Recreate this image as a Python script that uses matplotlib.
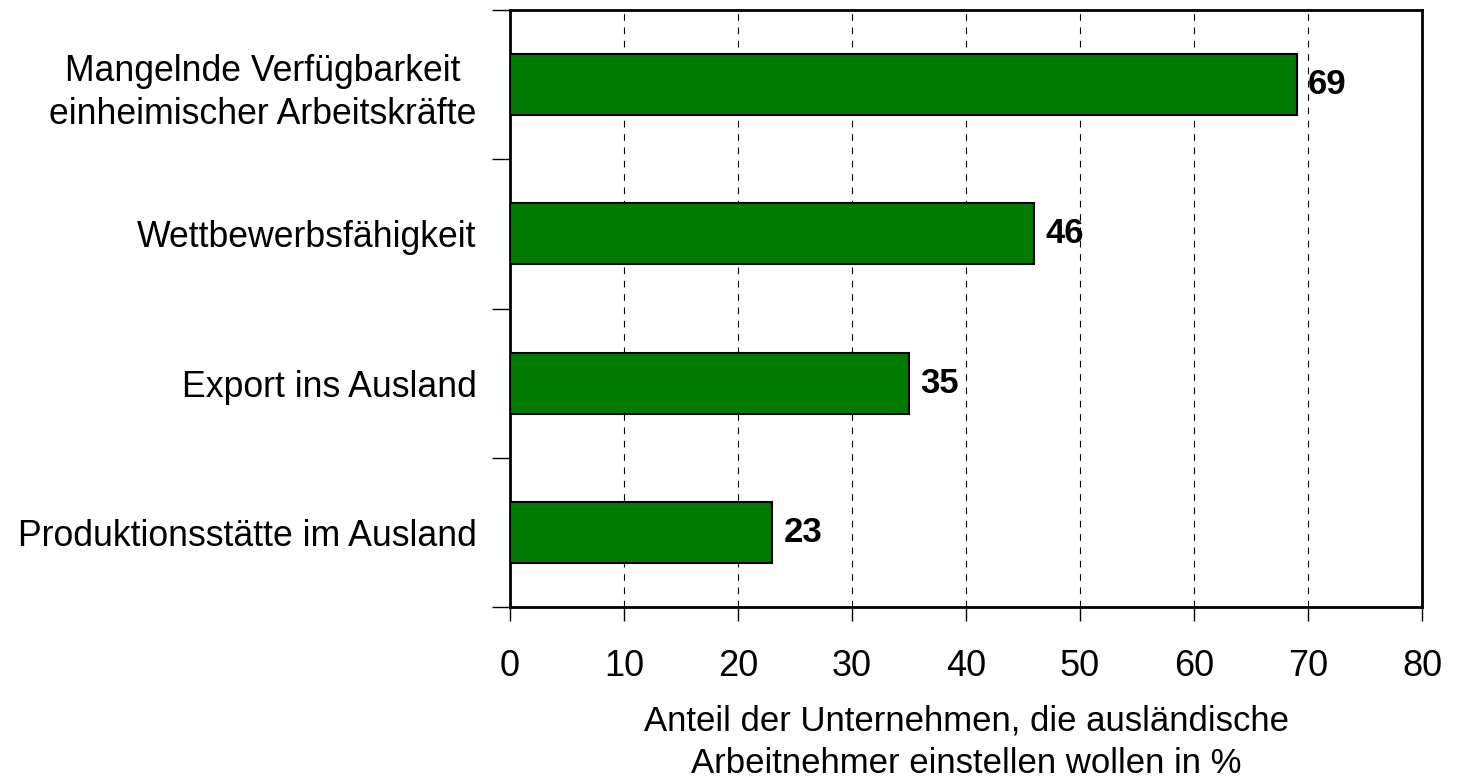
import matplotlib
matplotlib.use("Agg")
import matplotlib.pyplot as plt

categories = [
    "Mangelnde Verfügbarkeit\neinheimischer Arbeitskräfte",
    "Wettbewerbsfähigkeit",
    "Export ins Ausland",
    "Produktionsstätte im Ausland",
]
values = [69, 46, 35, 23]
value_labels = ["69", "46", "35", "23"]

plt.rcParams["font.family"] = ["Liberation Sans", "DejaVu Sans"]

fig = plt.figure(figsize=(14.61, 7.82), dpi=100)
ax = fig.add_axes([510 / 1461, 1 - 607 / 782, 912 / 1461, 597 / 782])

pos = list(range(len(categories)))
ax.barh(pos, values, height=0.41, color="#007A00", edgecolor="black", linewidth=1.5, zorder=3)
for p, v, lab in zip(pos, values, value_labels):
    ax.text(v + 1.0, p, lab, va="center", ha="left", fontsize=25, fontweight="bold")

ax.set_xlim(0, 80)
ax.set_ylim(len(categories) - 0.5, -0.5)
ax.set_xticks(range(0, 81, 10))
ax.set_yticks([i - 0.5 for i in range(len(categories) + 1)])
ax.set_yticklabels([])
ax.set_yticks(pos, minor=True)
ax.set_yticklabels(categories, minor=True, fontsize=25.7, ha="right",
                   multialignment="center", linespacing=1.3)
ax.tick_params(axis="y", which="minor", length=0, pad=24)
ax.tick_params(axis="y", which="major", length=13, width=1, direction="out")
ax.tick_params(axis="x", length=10, width=1, direction="out", labelsize=26, pad=20)

ax.xaxis.grid(True, linestyle=(0, (6, 6)), color="black", linewidth=0.8, zorder=0)
for s in ax.spines.values():
    s.set_linewidth(2)

ax.set_xlabel("Anteil der Unternehmen, die ausländische\nArbeitnehmer einstellen wollen in %",
              fontsize=25, labelpad=15, linespacing=1.38)

fig.savefig("out.png", dpi=100)
